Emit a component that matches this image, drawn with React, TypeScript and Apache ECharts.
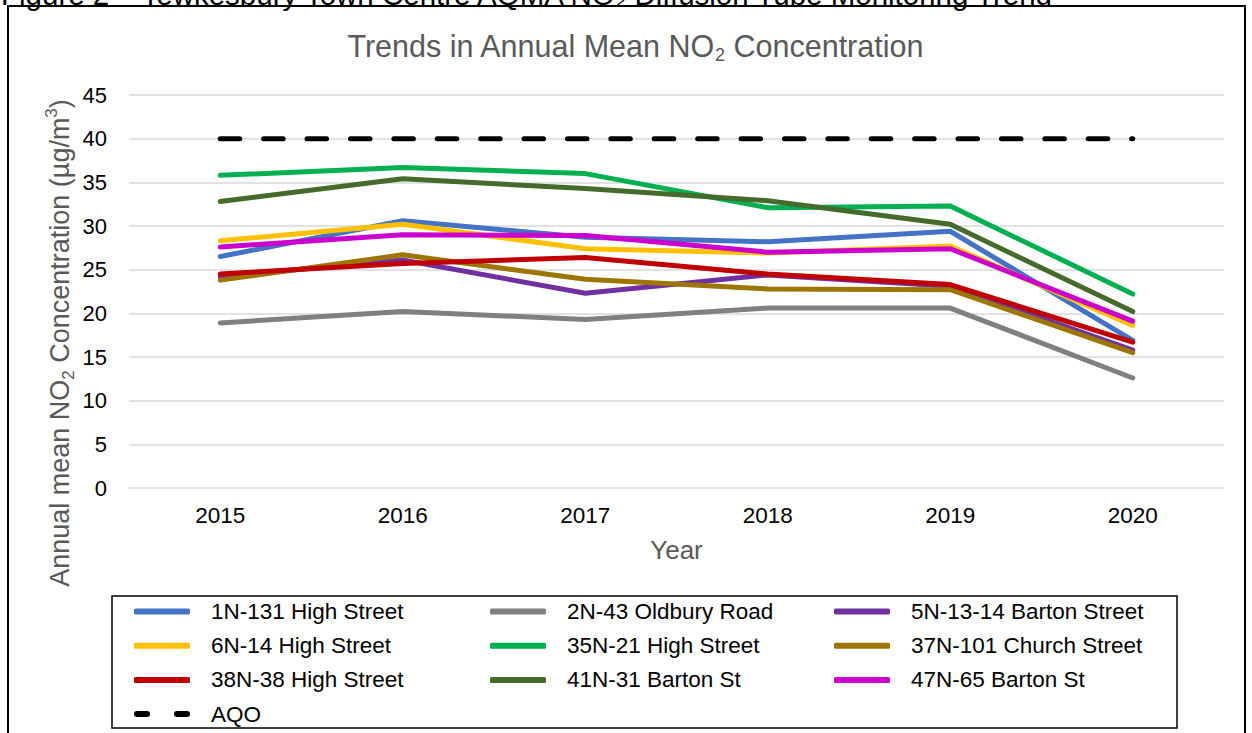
import React, { useEffect, useRef } from "react";
import * as echarts from "echarts";

const years = ["2015", "2016", "2017", "2018", "2019", "2020"];
const yTicks = [0, 5, 10, 15, 20, 25, 30, 35, 40, 45];

const s1N131High = [26.5, 30.6, 28.7, 28.2, 29.4, 16.9];
const s2N43Oldbury = [18.9, 20.2, 19.3, 20.6, 20.6, 12.6];
const s5N1314Barton = [24.2, 26.1, 22.3, 24.4, 23.1, 15.8];
const s6N14High = [28.3, 30.2, 27.4, 26.9, 27.7, 18.6];
const s35N21High = [35.8, 36.7, 36.0, 32.1, 32.3, 22.2];
const s37N101Church = [23.8, 26.7, 23.9, 22.8, 22.7, 15.5];
const s38N38High = [24.5, 25.7, 26.4, 24.5, 23.3, 16.7];
const s41N31Barton = [32.8, 35.4, 34.3, 32.9, 30.2, 20.2];
const s47N65Barton = [27.6, 29.0, 28.9, 27.0, 27.4, 19.1];
const aqo = [40, 40, 40, 40, 40, 40];

const seriesNames = [
  "1N-131 High Street",
  "2N-43 Oldbury Road",
  "5N-13-14 Barton Street",
  "6N-14 High Street",
  "35N-21 High Street",
  "37N-101 Church Street",
  "38N-38 High Street",
  "41N-31 Barton St",
  "47N-65 Barton St",
  "AQO",
];
const seriesData = [
  s1N131High,
  s2N43Oldbury,
  s5N1314Barton,
  s6N14High,
  s35N21High,
  s37N101Church,
  s38N38High,
  s41N31Barton,
  s47N65Barton,
  aqo,
];
const seriesColors = [
  "#4472C4",
  "#808080",
  "#7030A0",
  "#FFC000",
  "#00B050",
  "#9C7600",
  "#C00000",
  "#446A2C",
  "#CC00CC",
  "#000000",
];

const FONT = "'Liberation Sans', Arial, sans-serif";
const GREY = "#595959";

export default function App() {
  const ref = useRef<HTMLDivElement>(null);
  useEffect(() => {
    if (!ref.current) return;
    const chart = echarts.init(ref.current, undefined, { renderer: "svg" });

    const series: any[] = seriesNames.map((name, i) => {
      const isAqo = name === "AQO";
      return {
        name,
        type: "line",
        data: seriesData[i],
        symbol: "none",
        showSymbol: false,
        color: seriesColors[i],
        lineStyle: isAqo
          ? { width: 5, color: "#000", type: [19.5, 23.9], cap: "round" }
          : { width: 5, color: seriesColors[i], cap: "round", join: "round" },
        z: isAqo ? 1 : 2,
      };
    });

    const legendItem = (name: string) =>
      name === "AQO"
        ? { name, icon: "path://M3,0h10a3,3 0 0 1 0,6h-10a3,3 0 0 1 0,-6z M43,0h10a3,3 0 0 1 0,6h-10a3,3 0 0 1 0,-6z" }
        : { name, icon: "roundRect" };

    const legendBase = {
      orient: "vertical",
      top: 600,
      padding: 0,
      height: 130,
      itemWidth: 56,
      itemHeight: 6,
      itemGap: 11.2,
      textStyle: {
        color: "#000",
        fontSize: 22.5,
        lineHeight: 22,
        fontFamily: FONT,
        padding: [0, 0, 0, 16],
      },
    };

    const richMain = {
      a: { fontSize: 30.5, fontFamily: FONT, color: GREY, fontWeight: "normal", verticalAlign: "middle", lineHeight: 36 },
      s: { fontSize: 18, fontFamily: FONT, color: GREY, fontWeight: "normal", verticalAlign: "bottom", lineHeight: 36 },
    };
    const richAxis = {
      a: { fontSize: 27, fontFamily: FONT, fill: GREY, color: GREY, verticalAlign: "middle", lineHeight: 34 },
      s: { fontSize: 17, fontFamily: FONT, fill: GREY, color: GREY, verticalAlign: "bottom", lineHeight: 34 },
      p: { fontSize: 17, fontFamily: FONT, fill: GREY, color: GREY, verticalAlign: "top", lineHeight: 34 },
    };

    chart.setOption({
      animation: false,
      backgroundColor: "#fff",
      title: {
        text: "{a|Trends in Annual Mean NO}{s|2}{a| Concentration}",
        left: 630,
        textAlign: "center",
        top: 23,
        textStyle: { fontWeight: "normal", rich: richMain },
      },
      grid: { left: 129, right: 28, top: 95, bottom: 245, containLabel: false },
      xAxis: {
        type: "category",
        data: years,
        boundaryGap: true,
        axisLine: { show: false },
        axisTick: { show: false },
        axisLabel: { color: "#000", fontSize: 22.5, fontFamily: FONT, margin: 16 },
        name: "Year",
        nameLocation: "middle",
        nameGap: 49,
        nameTextStyle: { color: GREY, fontSize: 26, fontFamily: FONT },
      },
      yAxis: {
        type: "value",
        min: yTicks[0],
        max: yTicks[yTicks.length - 1],
        interval: 5,
        axisLine: { show: false },
        axisTick: { show: false },
        axisLabel: { color: "#000", fontSize: 22, fontFamily: FONT, margin: 22 },
        splitLine: { lineStyle: { color: "#D9D9D9", width: 1.5 } },
      },
      legend: [
        { ...legendBase, left: 134, data: [0, 3, 6, 9].map((i) => legendItem(seriesNames[i])) },
        { ...legendBase, left: 490, data: [1, 4, 7].map((i) => legendItem(seriesNames[i])) },
        { ...legendBase, left: 834, data: [2, 5, 8].map((i) => legendItem(seriesNames[i])) },
      ],
      graphic: [
        {
          type: "rect",
          shape: { x: 8, y: 6, width: 1237, height: 760 },
          style: { fill: "none", stroke: "#000", lineWidth: 2 },
          silent: true,
          z: -1,
        },
        {
          type: "rect",
          shape: { x: 112, y: 596, width: 1065, height: 132 },
          style: { fill: "none", stroke: "#000", lineWidth: 1.5 },
          silent: true,
        },
        {
          type: "text",
          x: 1,
          y: 9,
          style: {
            text: "Figure 2 – Tewkesbury Town Centre AQMA NO₂ Diffusion Tube Monitoring Trend",
            fontSize: 29.5,
            fontFamily: FONT,
            fill: "#000",
            verticalAlign: "bottom",
          },
        },
        {
          type: "text",
          x: 60,
          y: 343,
          rotation: Math.PI / 2,
          style: {
            text: "{a|Annual mean NO}{s|2}{a| Concentration (µg/m}{p|3}{a|)}",
            fill: GREY,
            rich: richAxis,
            align: "center",
            verticalAlign: "middle",
          },
        },
      ],
      series,
    });
    return () => chart.dispose();
  }, []);

  return (
    <div
      ref={ref}
      style={{ position: "fixed", left: 0, top: 0, width: 1252, height: 733, background: "#fff" }}
    />
  );
}
